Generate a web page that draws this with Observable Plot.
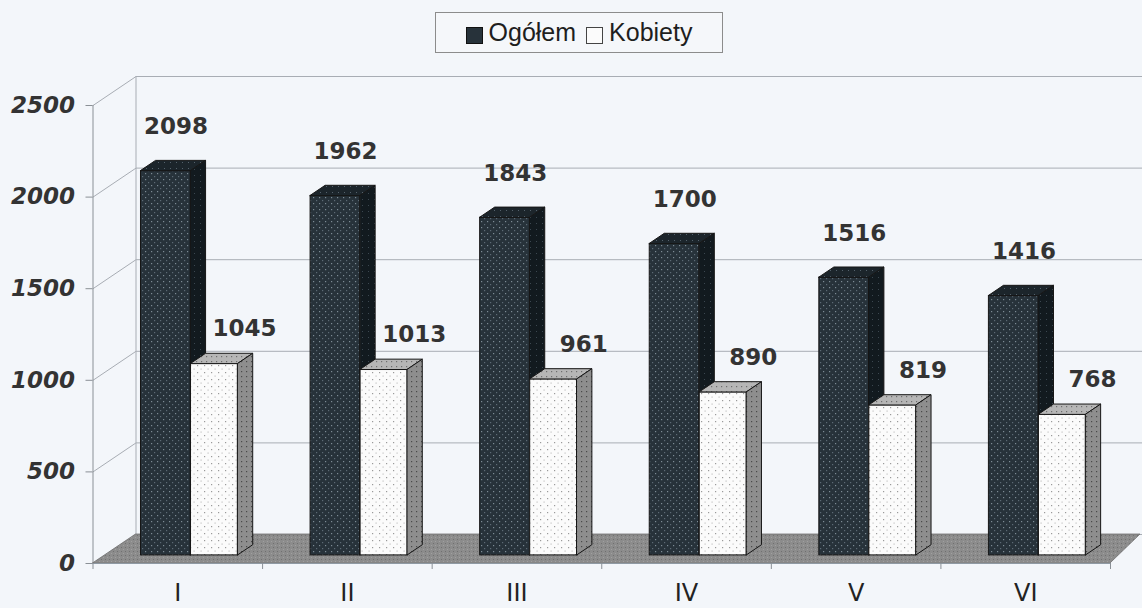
<!DOCTYPE html>
<html><head><meta charset="utf-8">
<script src="https://cdn.jsdelivr.net/npm/d3@7"></script>
<script src="https://cdn.jsdelivr.net/npm/@observablehq/plot@0.6"></script>
<style>
html,body{margin:0;padding:0;background:#f3f6fa;width:1142px;height:608px;overflow:hidden;}
#wrap{position:relative;width:1142px;height:608px;}
#legend{position:absolute;left:435px;top:12px;width:286px;height:39px;border:1px solid #8c8c8c;background:#f5f7fa;display:flex;align-items:center;justify-content:center;font-family:"Liberation Sans",Arial,sans-serif;font-size:25px;color:#1e1e1e;}
#legend .item{display:flex;align-items:center;margin:0 5px;}
#legend .sw{display:inline-block;width:15px;height:15px;border:1px solid #222;margin-right:6px;position:relative;top:3px;}
#chart{position:absolute;left:0;top:70px;}
#chart svg g[aria-label="y-axis tick label"] text{font-family:"DejaVu Sans",sans-serif;font-size:23px;font-weight:bold;font-style:italic;fill:#333;}
</style></head>
<body><div id="wrap"><div id="legend"></div><div id="chart"></div></div>
<script>
// ---- data ----
const categories = ["I", "II", "III", "IV", "V", "VI"];
const seriesNames = ["Ogółem", "Kobiety"];
const ogolem = [2098, 1962, 1843, 1700, 1516, 1416];
const kobiety = [1045, 1013, 961, 890, 819, 768];
const yTicks = [0, 500, 1000, 1500, 2000, 2500];

// ---- layout ----
const W = 1142, H = 538;
const X0 = 92.5, X1 = 1110, YT = 35, YB = 493;
const yMax = 2500;
const unitPx = (X1 - X0) / categories.length;
const pxPerVal = (YB - YT) / yMax;
const WALL_DX = 43 / unitPx, WALL_DY = 29 / pxPerVal;   // full depth of the 3D box
const FLOOR_RDX = 30 / unitPx;
const BAR_D0 = 0.28, BAR_D1 = 0.63;                     // depth range occupied by bars
const sx0 = BAR_D0 * WALL_DX, sy0 = BAR_D0 * WALL_DY;
const sx1 = BAR_D1 * WALL_DX, sy1 = BAR_D1 * WALL_DY;

const series = [
  {name: seriesNames[0], values: ogolem, a: 0.212, b: 0.507, front: "url(#pDarkFront)", top: "url(#pDarkTop)", side: "url(#pDarkSide)", ldx: 10, ldy: -44, sw: "#27323a", swb: "#111"},
  {name: seriesNames[1], values: kobiety, a: 0.507, b: 0.785, front: "url(#pWhiteFront)", top: "url(#pWhiteTop)", side: "url(#pWhiteSide)", ldx: 30, ldy: -35, sw: "#fbfbfb", swb: "#444"}
];

// legend
const leg = document.getElementById("legend");
series.forEach(s => {
  const it = document.createElement("span"); it.className = "item";
  const sw = document.createElement("span"); sw.className = "sw"; sw.style.background = s.sw; sw.style.borderColor = s.swb;
  it.appendChild(sw); it.appendChild(document.createTextNode(s.name));
  leg.appendChild(it);
});

// gridlines on side wall + back wall
const gridPts = [];
yTicks.forEach(t => {
  gridPts.push({t, x: 0, y: t});
  gridPts.push({t, x: WALL_DX, y: t + WALL_DY});
  gridPts.push({t, x: categories.length + FLOOR_RDX + 0.2, y: t + WALL_DY});
});
const floorPts = [
  {y: 0, x1: 0, x2: categories.length},
  {y: WALL_DY, x1: WALL_DX, x2: categories.length + FLOOR_RDX}
];

const barMarks = [];
series.forEach(s => {
  const fronts = s.values.map((v, i) => ({x1: i + s.a + sx0, x2: i + s.b + sx0, y1: sy0, y2: v + sy0}));
  const tops = [], sides = [];
  s.values.forEach((v, i) => {
    tops.push({id: i, y: v + sy0, x1: i + s.a + sx0, x2: i + s.b + sx0});
    tops.push({id: i, y: v + sy1, x1: i + s.a + sx1, x2: i + s.b + sx1});
    sides.push({id: i, x: i + s.b + sx0, y1: sy0, y2: v + sy0});
    sides.push({id: i, x: i + s.b + sx1, y1: sy1, y2: v + sy1});
  });
  barMarks.push(
    Plot.rect(fronts, {x1: "x1", x2: "x2", y1: "y1", y2: "y2", fill: s.front, stroke: "#161616", strokeWidth: 1}),
    Plot.areaX(tops, {y: "y", x1: "x1", x2: "x2", z: "id", fill: s.top, stroke: "#161616", strokeWidth: 1}),
    Plot.areaY(sides, {x: "x", y1: "y1", y2: "y2", z: "id", fill: s.side, stroke: "#161616", strokeWidth: 1})
  );
});

const labelMarks = series.map(s => Plot.text(s.values, {
  x: (d, i) => i + (s.a + s.b) / 2 + sx0,
  y: d => d + sy0,
  text: d => String(d),
  dx: s.ldx, dy: s.ldy,
  fontFamily: "DejaVu Sans", fontSize: 23, fontWeight: "bold", fill: "#333"
}));

const chart = Plot.plot({
  width: W, height: H,
  marginLeft: X0, marginRight: W - X1, marginTop: YT, marginBottom: H - YB,
  style: {background: "transparent", overflow: "hidden"},
  x: {type: "linear", domain: [0, categories.length], range: [X0, X1]},
  y: {type: "linear", domain: [0, yMax], range: [YB, YT]},
  marks: [
    Plot.line(gridPts, {x: "x", y: "y", z: "t", stroke: "#a8adb4", strokeWidth: 1}),
    Plot.ruleX([WALL_DX], {y1: WALL_DY, y2: yMax + WALL_DY, stroke: "#a8adb4", strokeWidth: 1}),
    Plot.ruleX([0], {y1: 0, y2: yMax, stroke: "#8a9096", strokeWidth: 1}),
    Plot.areaX(floorPts, {y: "y", x1: "x1", x2: "x2", fill: "url(#pFloor)", stroke: "#6e6e6e", strokeWidth: 0.8}),
    Plot.ruleY([0], {x1: 0, x2: categories.length, stroke: "#8f9aa4", strokeWidth: 1}),
    Plot.axisY({ticks: yTicks, tickSize: 7, tickPadding: 11, tickFormat: d => String(d), stroke: "#8a9096", label: null}),
    Plot.axisX({ticks: d3.range(categories.length + 1), tickSize: 6, tickFormat: () => "", stroke: "#8a9096", label: null}),
    ...barMarks,
    ...labelMarks,
    Plot.text(categories, {x: (d, i) => i + 0.5, y: () => 0, dy: 30, text: d => d,
      fontFamily: "DejaVu Sans, sans-serif", fontSize: 24, fill: "#222"})
  ]
});

const defs = document.createElementNS("http://www.w3.org/2000/svg", "defs");
defs.innerHTML = `
<pattern id="pDarkFront" patternUnits="userSpaceOnUse" width="6" height="6">
  <rect width="6" height="6" fill="#27323a"/>
  <rect x="1" y="1" width="1.2" height="1.2" fill="#7d8b95"/>
  <rect x="4" y="4" width="1.2" height="1.2" fill="#5c6a74"/>
</pattern>
<pattern id="pDarkTop" patternUnits="userSpaceOnUse" width="6" height="6">
  <rect width="6" height="6" fill="#1c252b"/>
  <rect x="2" y="2" width="1" height="1" fill="#55626c"/>
</pattern>
<pattern id="pDarkSide" patternUnits="userSpaceOnUse" width="6" height="6">
  <rect width="6" height="6" fill="#121a1f"/>
  <rect x="2" y="3" width="1" height="1" fill="#3b4750"/>
</pattern>
<pattern id="pWhiteFront" patternUnits="userSpaceOnUse" width="7" height="7">
  <rect width="7" height="7" fill="#fbfbfb"/>
  <rect x="1" y="1" width="1.2" height="1.2" fill="#9a9a9a"/>
  <rect x="4.5" y="4.5" width="1.2" height="1.2" fill="#c4c4c4"/>
</pattern>
<pattern id="pWhiteTop" patternUnits="userSpaceOnUse" width="5" height="5">
  <rect width="5" height="5" fill="#b6b6b6"/>
  <rect x="1" y="1" width="1.2" height="1.2" fill="#6e6e6e"/>
</pattern>
<pattern id="pWhiteSide" patternUnits="userSpaceOnUse" width="5" height="5">
  <rect width="5" height="5" fill="#8e8e8e"/>
  <rect x="1" y="1" width="1.2" height="1.2" fill="#4a4a4a"/>
</pattern>
<pattern id="pFloor" patternUnits="userSpaceOnUse" width="4" height="4">
  <rect width="4" height="4" fill="#8c8c8c"/>
  <rect x="1" y="1" width="1" height="1" fill="#707070"/>
  <rect x="3" y="3" width="1" height="1" fill="#a0a0a0"/>
</pattern>`;
chart.insertBefore(defs, chart.firstChild);
document.getElementById("chart").appendChild(chart);
</script>
</body></html>
